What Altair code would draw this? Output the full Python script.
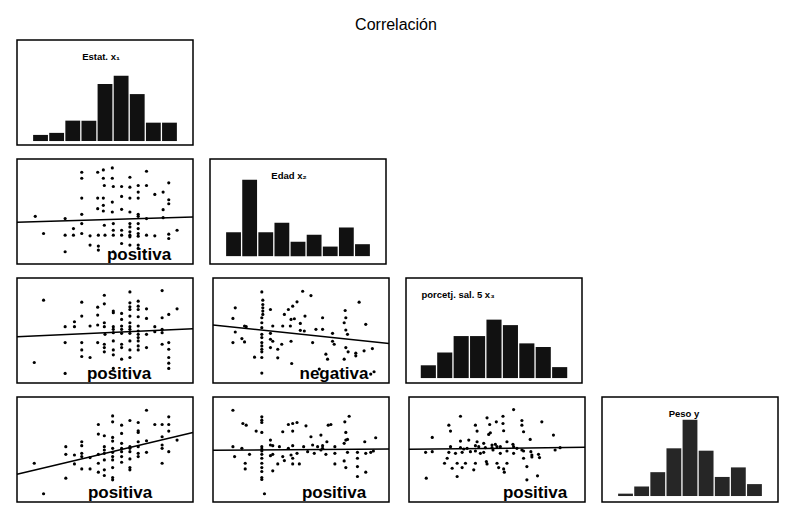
import altair as alt
import pandas as pd

CHART_TITLE = "Correlación"

# ---------------- histograms (diagonal) ----------------
hist_titles = ["Estat. x₁", "Edad  x₂", "porcetj. sal. 5  x₃", "Peso  y"]
hist_x1 = [3, 4, 10, 10, 28, 32, 23, 9, 9]
hist_x2 = [10, 32, 10, 14, 6, 9, 4, 12, 5]
hist_x3 = [7, 14, 23, 23, 32, 29, 19, 17, 6]
hist_y = [1, 4, 10, 20, 32, 19, 8, 12, 5]

# ---------------- scatter panels (panel units) ----------------
pts_x1_x2 = [
    (200, 45), (200, 63), (248, 45), (265, 38), (292, 32), (265, 63), (292, 63), (345, 60), (395, 42),
    (268, 85), (295, 88), (320, 88), (345, 90), (370, 85), (395, 85), (462, 77),
    (370, 105), (420, 112), (445, 105),
    (200, 123), (248, 123), (265, 123), (292, 135), (320, 118), (345, 123), (370, 123), (462, 128), (462, 140),
    (248, 155), (265, 145), (265, 162), (292, 165), (320, 157), (345, 165), (370, 172), (445, 158),
    (60, 178), (150, 185), (200, 172), (395, 185), (445, 182), (370, 178),
    (200, 200), (268, 205), (295, 200), (345, 200), (370, 200), (370, 215),
    (175, 215), (295, 220), (320, 220), (345, 210), (345, 225), (345, 235), (370, 230),
    (85, 230), (150, 235), (175, 235), (200, 230), (225, 237), (250, 235), (270, 235), (295, 235),
    (320, 235), (345, 240), (370, 238), (395, 235), (420, 237), (462, 232), (462, 245), (487, 220),
    (225, 265), (250, 268), (250, 280), (320, 260), (345, 265), (370, 265), (370, 275),
    (150, 285), (295, 285), (390, 285),
]
line_x1_x2 = [196, 180]

pts_x1_x3 = [
    (85, 72), (200, 78), (268, 57), (345, 47), (442, 43),
    (248, 93), (268, 83), (295, 105), (295, 110), (320, 112), (345, 80), (345, 92), (345, 100),
    (370, 75), (370, 90), (370, 100), (395, 98), (487, 98), (462, 115),
    (200, 120), (248, 117), (268, 140), (320, 130), (345, 120), (370, 122), (395, 127), (442, 125),
    (150, 152), (178, 137), (178, 152), (225, 150), (248, 147), (268, 152), (295, 152), (295, 160),
    (320, 150), (320, 160), (345, 140), (345, 152), (345, 160), (370, 150), (370, 165), (420, 152),
    (442, 160), (420, 167), (395, 175), (442, 170),
    (270, 175), (295, 170), (320, 172), (345, 172), (370, 175), (370, 185),
    (150, 200), (200, 200), (248, 200), (268, 205), (295, 195), (320, 205), (345, 195), (370, 195),
    (370, 210), (395, 215), (442, 205), (462, 200),
    (200, 222), (200, 242), (225, 245), (268, 215), (268, 228), (295, 222), (295, 237), (320, 215),
    (345, 222), (345, 245), (370, 222), (462, 220), (462, 245), (320, 250),
    (57, 260), (150, 293), (295, 278), (462, 278), (462, 262),
]
line_x1_x3 = [182, 158]

pts_x2_x3 = [
    (152, 47), (275, 45), (300, 58), (72, 95), (155, 72), (155, 85), (155, 95), (155, 105), (155, 115),
    (178, 100), (220, 115), (232, 100), (245, 90), (258, 77), (403, 103), (445, 78),
    (65, 127), (152, 125), (152, 140), (240, 130), (250, 128), (282, 120), (335, 125), (400, 140),
    (405, 125), (465, 145),
    (100, 150), (105, 152), (152, 155), (185, 150), (215, 150), (238, 150), (268, 142), (268, 163),
    (280, 165), (315, 160), (335, 160), (365, 172), (405, 162), (410, 175),
    (72, 168), (152, 175), (152, 185), (178, 172), (178, 190),
    (92, 188), (65, 200), (100, 198), (152, 200), (152, 210), (152, 220), (152, 228), (178, 215),
    (185, 196), (200, 220), (212, 205), (240, 196), (305, 200), (365, 196), (370, 205), (405, 215),
    (412, 228), (435, 232), (435, 240), (460, 225), (485, 218),
    (130, 244), (152, 245), (200, 246), (345, 235), (350, 250), (400, 250),
    (242, 263), (152, 292), (480, 295), (490, 288), (325, 280),
]
line_x2_x3 = [147, 203]

pts_x1_y = [
    (395, 45), (293, 62), (462, 65), (293, 80), (345, 76), (250, 88), (320, 90), (370, 82), (420, 88),
    (442, 88), (462, 88),
    (250, 117), (268, 122), (293, 127), (320, 115), (370, 107), (370, 112), (462, 108), (442, 125), (487, 135),
    (200, 140), (200, 152), (152, 155), (293, 138), (320, 145), (345, 155), (370, 140), (395, 137),
    (442, 150), (442, 160),
    (152, 178), (178, 180), (200, 175), (200, 185), (225, 188), (250, 178), (268, 155), (268, 165),
    (268, 175), (293, 160), (293, 172), (293, 185), (320, 160), (320, 170), (320, 185), (345, 160),
    (345, 170), (370, 155), (370, 175), (370, 185), (395, 172), (462, 170),
    (57, 205), (178, 207), (250, 205), (268, 195), (293, 195), (320, 202), (345, 192), (442, 205),
    (200, 222), (225, 222), (250, 232), (268, 225), (268, 242), (293, 218), (293, 248), (293, 255),
    (345, 218), (345, 225), (152, 250),
    (85, 297),
]
line_x1_y = [238, 112]

pts_x2_y = [
    (65, 45), (152, 65), (152, 75), (152, 82), (95, 85), (105, 90), (135, 108), (152, 112), (232, 88),
    (245, 85), (258, 82), (285, 92), (352, 90), (360, 88), (402, 80), (415, 63), (405, 112), (495, 128),
    (178, 135), (215, 110), (245, 108), (300, 125), (330, 120), (348, 140), (405, 135), (410, 133), (462, 140),
    (65, 155), (92, 160), (152, 155), (152, 162), (152, 168), (178, 150), (185, 152), (205, 155),
    (232, 160), (245, 152), (278, 155), (305, 150), (320, 155), (335, 152), (335, 160), (372, 155), (400, 145),
    (70, 185), (115, 178), (152, 178), (152, 190), (178, 182), (185, 178), (215, 185), (240, 180),
    (245, 190), (258, 175), (290, 170), (310, 175), (330, 165), (345, 178), (372, 175), (410, 172),
    (440, 172), (465, 175), (480, 172), (488, 168),
    (102, 205), (102, 222), (152, 205), (152, 218), (152, 230), (152, 248), (152, 254), (185, 228),
    (200, 207), (220, 197), (245, 207), (265, 207), (372, 207), (400, 198), (405, 218), (440, 190),
    (440, 215), (440, 245), (465, 232),
    (160, 297),
]
line_x2_y = [166, 162]

pts_x3_y = [
    (320, 43), (160, 63), (240, 68), (288, 63), (125, 90), (205, 90), (248, 88), (268, 80), (288, 85),
    (345, 76), (345, 90), (405, 80),
    (130, 108), (210, 108), (250, 113), (245, 118), (290, 107), (350, 110),
    (75, 127), (160, 138), (185, 135), (210, 140), (230, 145), (255, 150), (265, 148), (300, 140),
    (318, 148), (370, 133), (440, 120),
    (130, 155), (160, 158), (170, 162), (180, 160), (205, 152), (215, 155), (235, 158), (255, 158),
    (270, 155), (280, 155), (320, 155), (330, 160), (345, 165), (445, 165), (460, 158),
    (55, 172), (75, 170), (125, 172), (145, 175), (165, 172), (190, 170), (205, 168), (220, 175),
    (230, 172), (258, 165), (280, 175), (300, 168), (320, 175), (350, 168), (372, 170), (375, 180),
    (375, 186), (395, 178), (398, 188),
    (120, 190), (112, 205), (135, 220), (150, 205), (165, 218), (175, 205), (200, 225), (205, 205),
    (238, 200), (240, 207), (270, 205), (275, 218), (290, 222), (292, 232), (300, 205), (350, 190),
    (360, 215), (392, 243), (360, 255), (150, 245), (57, 250),
]
line_x3_y = [163, 157]

labels = ["positiva", "positiva", "negativa", "positiva", "positiva", "positiva"]

X_DOMAIN = [5, 535]
Y_DOMAIN = [5, 322]
W, H = 176, 105
FONT = "Liberation Sans"


def scatter(pts, line_y, label, label_x):
    df = pd.DataFrame(pts, columns=["x", "y"])
    xs = alt.Scale(domain=X_DOMAIN, nice=False, zero=False)
    ys = alt.Scale(domain=Y_DOMAIN, nice=False, zero=False, reverse=True)
    dots = alt.Chart(df).mark_circle(size=10, color="black", opacity=1).encode(
        x=alt.X("x:Q", scale=xs, axis=None),
        y=alt.Y("y:Q", scale=ys, axis=None),
    )
    ldf = pd.DataFrame({"x": X_DOMAIN, "y": line_y})
    line = alt.Chart(ldf).mark_line(color="black", strokeWidth=1.5).encode(
        x=alt.X("x:Q", scale=xs, axis=None),
        y=alt.Y("y:Q", scale=ys, axis=None),
    )
    txt = alt.Chart(pd.DataFrame({"t": [label]})).mark_text(
        font=FONT, fontSize=17, fontWeight="bold", align="center", baseline="alphabetic",
        color="black", clip=True,
    ).encode(text="t:N", x=alt.value(label_x), y=alt.value(H - 4))
    return alt.layer(dots, line, txt).properties(width=W, height=H)


def hist(counts, title, title_x, ydom, pad_outer, fill):
    df = pd.DataFrame({"bin": list(range(1, len(counts) + 1)), "n": counts})
    bars = alt.Chart(df).mark_bar(color=fill).encode(
        x=alt.X("bin:O", scale=alt.Scale(paddingInner=0.08, paddingOuter=pad_outer), axis=None),
        y=alt.Y("n:Q", scale=alt.Scale(domain=ydom, nice=False, zero=False), axis=None),
        y2=alt.datum(0),
    )
    txt = alt.Chart(pd.DataFrame({"t": [title]})).mark_text(
        font=FONT, fontSize=9.5, fontWeight="bold", align="center", baseline="middle", color="black"
    ).encode(text="t:N", x=alt.value(title_x), y=alt.value(17))
    return alt.layer(bars, txt).properties(width=W, height=H)


h1 = hist(hist_x1, hist_titles[0], 84, [-1.94, 49.5], 1.0, "#111111")
h2 = hist(hist_x2, hist_titles[1], 79, [-3.3, 40.7], 1.0, "#111111")
h3 = hist(hist_x3, hist_titles[2], 52, [-2.7, 54.8], 0.9, "#111111")
h4 = hist(hist_y, hist_titles[3], 82, [-2.5, 41.5], 1.0, "#262626")

sA = scatter(pts_x1_x2, line_x1_x2, labels[0], 122)
sB = scatter(pts_x1_x3, line_x1_x3, labels[1], 102)
sC = scatter(pts_x2_x3, line_x2_x3, labels[2], 121)
sD = scatter(pts_x1_y, line_x1_y, labels[3], 103)
sE = scatter(pts_x2_y, line_x2_y, labels[4], 121)
sF = scatter(pts_x3_y, line_x3_y, labels[5], 126)

row1 = alt.hconcat(h1, spacing=12)
row2 = alt.hconcat(sA, h2, spacing=12)
row3 = alt.hconcat(sB, sC, h3, spacing=12)
row4 = alt.hconcat(sD, sE, sF, h4, spacing=12)

chart = alt.vconcat(row1, row2, row3, row4, spacing=12).properties(
    title=alt.TitleParams(CHART_TITLE, font=FONT, fontSize=16, fontWeight="normal",
                          anchor="middle", offset=6, color="black"),
    padding={"left": 5, "top": 9, "right": 0, "bottom": 0},
    background="white",
).configure_view(stroke="black", strokeWidth=1.5)

chart.save("out.html", embed_options={"renderer": "svg", "actions": False})
